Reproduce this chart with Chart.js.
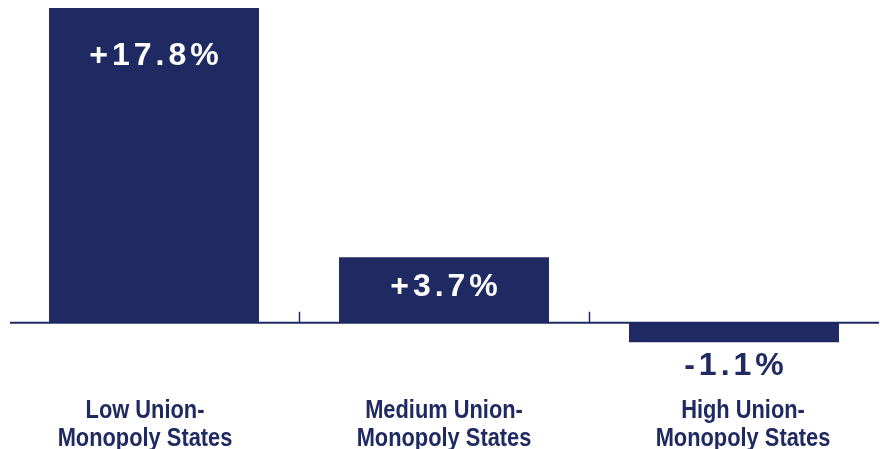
<!DOCTYPE html>
<html>
<head>
<meta charset="utf-8">
<script src="https://cdn.jsdelivr.net/npm/chart.js@4"></script>
<style>
html,body{margin:0;padding:0;background:#fff;}
#wrap{width:880px;height:449px;position:relative;}
</style>
</head>
<body>
<div id="wrap"><canvas id="c"></canvas></div>
<script>
const categories = [["Low Union-","Monopoly States"],["Medium Union-","Monopoly States"],["High Union-","Monopoly States"]];
const values = [17.8, 3.7, -1.1];
const valueLabels = ["+17.8%", "+3.7%", "-1.1%"];

const NAVY = "#1f2a63";
const FONT = "'Liberation Sans', Arial, sans-serif";

const overlay = {
  id: "overlay",
  afterDatasetsDraw(chart) {
    const ctx = chart.ctx;
    const xs = chart.scales.x, ys = chart.scales.y;
    const area = chart.chartArea;
    const y0 = ys.getPixelForValue(0);
    ctx.save();
    // zero axis line
    ctx.strokeStyle = NAVY;
    ctx.lineWidth = 2;
    ctx.beginPath();
    ctx.moveTo(area.left + 1, y0);
    ctx.lineTo(area.right, y0);
    ctx.stroke();
    // upward ticks at category boundaries
    const step = xs.getPixelForValue(1) - xs.getPixelForValue(0);
    ctx.lineWidth = 1.5;
    for (let i = 1; i < values.length; i++) {
      const x = Math.round(xs.getPixelForValue(i) - step / 2) + 0.5;
      ctx.beginPath();
      ctx.moveTo(x, y0);
      ctx.lineTo(x, y0 - 11);
      ctx.stroke();
    }
    // value labels
    ctx.font = "bold 32px " + FONT;
    ctx.letterSpacing = "4px";
    ctx.textAlign = "center";
    ctx.textBaseline = "alphabetic";
    const meta = chart.getDatasetMeta(0);
    meta.data.forEach((bar, i) => {
      const v = values[i];
      let yb;
      if (v >= 0) {
        ctx.fillStyle = "#ffffff";
        yb = bar.y + Math.min(57, (y0 - bar.y) * 0.585);
      } else {
        ctx.fillStyle = NAVY;
        yb = bar.y + 33;
      }
      ctx.fillText(valueLabels[i], bar.x + 2, yb);
    });
    ctx.letterSpacing = "0px";
    // category labels (condensed bold)
    ctx.font = "bold 26px " + FONT;
    ctx.fillStyle = NAVY;
    const midX = (area.left + area.right) / 2;
    const spread = 299 / step;
    categories.forEach((lines, i) => {
      const cx = midX + (xs.getPixelForValue(i) - midX) * spread;
      lines.forEach((txt, j) => {
        ctx.save();
        ctx.translate(cx, 417.5 + j * 28);
        ctx.scale(0.84, 1);
        ctx.fillText(txt, 0, 0);
        ctx.restore();
      });
    });
    ctx.restore();
  }
};

new Chart(document.getElementById("c"), {
  type: "bar",
  data: {
    labels: categories,
    datasets: [{
      data: values,
      backgroundColor: NAVY,
      borderWidth: 0,
      barPercentage: 0.724,
      categoryPercentage: 1
    }]
  },
  options: {
    responsive: true,
    maintainAspectRatio: false,
    animation: false,
    events: [],
    layout: { padding: { left: 9, right: 1, top: 8, bottom: 0 } },
    plugins: { legend: { display: false }, tooltip: { enabled: false } },
    scales: {
      x: { display: false },
      y: {
        display: false,
        min: -7.14,
        max: 17.8
      }
    }
  },
  plugins: [overlay]
});
</script>
</body>
</html>
